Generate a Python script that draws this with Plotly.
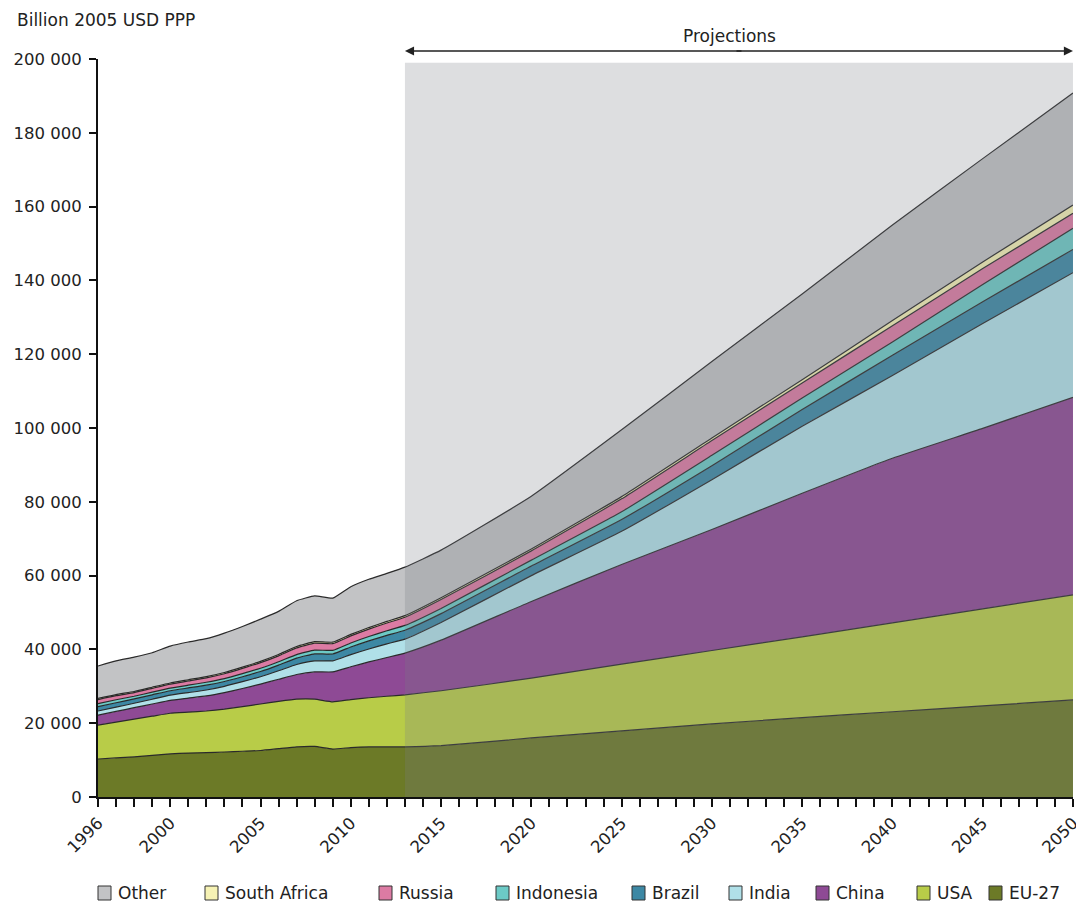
import plotly.graph_objects as go

years = list(range(1996, 2014)) + [2015, 2020, 2025, 2030, 2035, 2040, 2045, 2050]

eu27 = [10300, 10600, 10900, 11300, 11700, 11900, 12000, 12200, 12400, 12600, 13100, 13600, 13700, 13000, 13400, 13600, 13600, 13600,
        13900, 16000, 17900, 19800, 21500, 23100, 24700, 26300]
usa = [9200, 9700, 10200, 10600, 11000, 11100, 11300, 11600, 12100, 12600, 12800, 12900, 12800, 12800, 13000, 13300, 13700, 14100,
       14900, 16200, 18100, 19900, 21900, 24100, 26300, 28500]
china = [2700, 2900, 3100, 3300, 3500, 3800, 4100, 4500, 4900, 5400, 6000, 6700, 7400, 8100, 8900, 9700, 10500, 11300,
         13700, 20800, 27000, 32800, 38900, 44600, 48900, 53500]
india = [1100, 1150, 1200, 1300, 1400, 1500, 1600, 1700, 1850, 2000, 2300, 2700, 3000, 3000, 3300, 3500, 3700, 3800,
         4800, 7000, 9000, 13500, 18200, 22400, 28400, 33800]
brazil = [1200, 1200, 1200, 1200, 1200, 1250, 1300, 1300, 1350, 1400, 1550, 1750, 1900, 1850, 2050, 2200, 2300, 2400,
          2400, 2600, 3200, 3800, 4500, 5500, 5900, 6300]
indonesia = [800, 800, 700, 700, 700, 750, 800, 800, 850, 900, 900, 950, 1000, 1000, 1100, 1200, 1250, 1300,
             1400, 1600, 2100, 2800, 3100, 3600, 4700, 5700]
russia = [1100, 1100, 1000, 1050, 1100, 1150, 1200, 1300, 1400, 1500, 1600, 1800, 1900, 1800, 1900, 2000, 2100, 2200,
          2400, 2500, 3500, 4000, 4100, 4400, 4300, 4100]
south_africa = [300, 300, 300, 300, 300, 320, 330, 340, 350, 370, 380, 400, 410, 400, 410, 420, 430, 440,
                500, 500, 600, 700, 900, 1400, 1800, 2200]
other = [8800, 9150, 9300, 9350, 10000, 10230, 10270, 10660, 11000, 11430, 11670, 12400, 12390, 11950, 12940, 13080, 13020, 13160,
         12900, 14300, 18100, 20700, 23200, 25900, 28000, 30400]

series_names = ["EU-27", "USA", "China", "India", "Brazil", "Indonesia", "Russia", "South Africa", "Other"]
series_values = [eu27, usa, china, india, brazil, indonesia, russia, south_africa, other]
series_colors = ["#6c7a27", "#b8cc48", "#8e4a95", "#b0e0e8", "#3d88a4", "#6ccac6", "#dc7ba3", "#f6f2b4", "#c2c3c5"]

legend_order = ["Other", "South Africa", "Russia", "Indonesia", "Brazil", "India", "China", "USA", "EU-27"]

x_ticks = [1996, 2000, 2005, 2010, 2015, 2020, 2025, 2030, 2035, 2040, 2045, 2050]
projection_start = 2013
projection_end = 2050
projection_label = "Projections"
y_title = "Billion 2005 USD PPP"

FONT = "DejaVu Sans, Verdana, sans-serif"
W, H = 1076, 904
ML, MR, MT, MB = 98, 3, 59, 107
PW, PH = W - ML - MR, H - MT - MB


def px_x(px):
    return (px - ML) / PW


def px_y(py):
    return (H - MB - py) / PH


fig = go.Figure()
for name, vals, col in zip(series_names, series_values, series_colors):
    fig.add_trace(go.Scatter(
        x=years, y=vals, name=name, stackgroup="gdp", mode="lines",
        line=dict(color="#2a2a2a", width=1.2, shape="spline", smoothing=0.4),
        fillcolor=col, showlegend=False, hoverinfo="x+y+name"))

# projection shading
fig.add_shape(type="rect", xref="x", yref="y", x0=projection_start, x1=projection_end,
              y0=0, y1=199000, fillcolor="rgba(120,125,130,0.25)", line=dict(width=0), layer="above")

# double-headed arrow (two overlapping halves from the middle) + label
px_per_year = PW / (x_ticks[-1] - x_ticks[0])
half = (projection_end - projection_start) * px_per_year / 2 + 4
for xe, sign in ((projection_end, -1), (projection_start, 1)):
    fig.add_annotation(x=xe, y=px_y(51), xref="x", yref="paper",
                       ax=sign * half, ay=0, axref="pixel", ayref="pixel", text="",
                       showarrow=True, arrowhead=2, arrowsize=1.3, arrowwidth=1.4,
                       arrowcolor="#222222", standoff=0, startstandoff=0)
fig.add_annotation(x=2031, y=px_y(36), xref="x", yref="paper", text=projection_label, showarrow=False,
                   yanchor="middle", font=dict(family=FONT, size=17, color="#222222"))
fig.add_annotation(x=px_x(15), y=px_y(20), xref="paper", yref="paper", text=y_title, showarrow=False,
                   xanchor="left", yanchor="middle", font=dict(family=FONT, size=17, color="#222222"))

# legend (boxes + labels)
legend_box_left = [98, 205, 379, 496, 632, 729, 816, 917, 989]
color_of = dict(zip(series_names, series_colors))
for name, bx in zip(legend_order, legend_box_left):
    fig.add_shape(type="rect", xref="paper", yref="paper",
                  x0=px_x(bx), x1=px_x(bx + 13), y0=px_y(900), y1=px_y(886),
                  fillcolor=color_of[name], line=dict(color="#333333", width=1))
    fig.add_annotation(x=px_x(bx + 18), y=px_y(893), xref="paper", yref="paper", text=name,
                       showarrow=False, xanchor="left", yanchor="middle",
                       font=dict(family=FONT, size=17, color="#222222"))

fig.update_layout(
    width=W, height=H, autosize=False,
    margin=dict(l=ML, r=MR, t=MT, b=MB),
    paper_bgcolor="white", plot_bgcolor="white",
    separators=". ",
    showlegend=False,
    font=dict(family=FONT, size=16, color="#222222"),
)
fig.update_xaxes(range=[1995.999, 2050.001], tickmode="array", tickvals=x_ticks, tickangle=-45,
                 automargin=False, ticklabeloverflow="allow",
                 showline=True, linecolor="#111111", linewidth=2, ticks="outside", ticklen=8,
                 tickcolor="#111111", tickwidth=1.5, showgrid=False, zeroline=False,
                 minor=dict(tick0=1996, dtick=1, ticks="outside", ticklen=8, tickcolor="#111111", tickwidth=1.5),
                 tickfont=dict(family=FONT, size=16.5, color="#222222"))
fig.update_yaxes(range=[0, 200000], tickmode="linear", tick0=0, dtick=20000, tickformat=",d",
                 automargin=False, ticklabelstandoff=4, ticklabeloverflow="allow",
                 showline=True, linecolor="#111111", linewidth=2, ticks="outside", ticklen=7,
                 tickcolor="#111111", tickwidth=1.5, showgrid=False, zeroline=False,
                 tickfont=dict(family=FONT, size=16.5, color="#222222"))

fig.write_html(
    "out.html",
    include_plotlyjs=True,
    full_html=True,
    default_width="1076px",
    default_height="904px",
    config={"responsive": False, "displayModeBar": False},
    post_script="document.body.style.margin='0';document.body.style.overflow='hidden';"
                "document.documentElement.style.overflow='hidden';",
)
